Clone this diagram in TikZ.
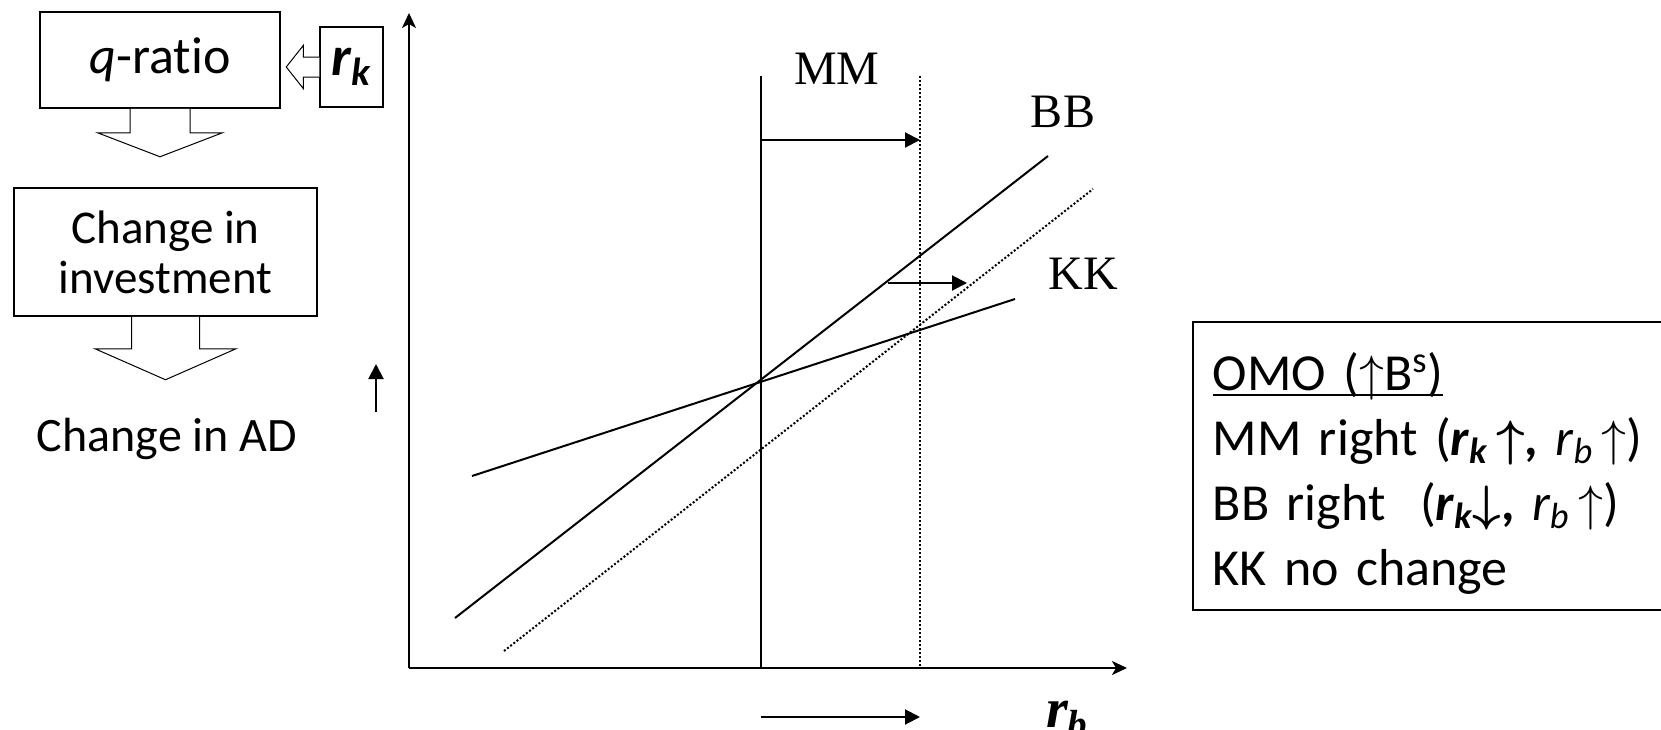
\documentclass[tikz,border=0pt]{standalone}
\usepackage{fontspec}
\setmainfont{Carlito}[Ligatures=NoCommon]
\newfontfamily\timesfont{Liberation Serif}
\usepackage{tikz}
\usetikzlibrary{positioning}
\usetikzlibrary{arrows.meta}
\usetikzlibrary{calc}
\newsavebox\omobox
\newcommand{\omohead}[1]{\sbox\omobox{#1}\usebox\omobox\llap{\rule[-3pt]{\wd\omobox}{1.2pt}}}

\begin{document}
\begin{tikzpicture}[x=0.5pt, y=-0.5pt,
                    flowbox/.style={draw, line width=0.75pt, align=center, inner sep=0pt,
                                    font=\fontsize{23.5}{25}\selectfont},
                    blockarrow/.style={draw, line width=0.5pt, fill=white},
                    curve/.style={line width=1pt},
                    shifted/.style={line width=1pt, dash pattern=on 1pt off 1pt},
                    axis/.style={line width=1.1pt, -{Stealth[length=7.5pt, width=7pt, inset=2pt]}},
                    shiftarrow/.style={line width=1pt, -{Triangle[length=7.5pt, width=7.5pt]}},
                    curvelabel/.style={font=\timesfont\fontsize{24}{26}\selectfont}]

  \useasboundingbox (0,0) rectangle (1661,729);

  % transmission chain
  \node[flowbox, minimum width=120pt, minimum height=48pt, font=\fontsize{26}{28}\selectfont]
    (qratio) at (160,60) {\textit{q}-ratio};
  \node[flowbox, minimum width=31.5pt, minimum height=40pt, font=\fontsize{28}{30}\selectfont]
    (rk) at (351.5,67) {\textbf{\textit{r\textsubscript{k}}}};
  \node[flowbox, minimum width=151.5pt, minimum height=64pt] (invest) at (165.5,252) {Change in\\investment};
  \node[font=\fontsize{24}{26}\selectfont] (ad) at (167,439) {Change in AD};

  \draw[blockarrow] ($(rk.west)+(0,-10)$) -- ++(-16,0) -- ++(0,-11.5)
    -- ($(rk.west)+(-33,0)$) -- ($(rk.west)+(-16,21.5)$) -- ++(0,-11.5) -- ($(rk.west)+(0,10)$);
  \draw[blockarrow] ($(qratio.south)+(-30,0)$) -- ++(0,24) -- ++(-32.5,0)
    -- ($(qratio.south)+(0,48)$) -- ($(qratio.south)+(62.5,24)$) -- ++(-32.5,0) -- ($(qratio.south)+(30,0)$);
  \draw[blockarrow] ($(invest.south)+(-34,0)$) -- ++(0,32) -- ++(-36.5,0)
    -- ($(invest.south)+(0,63)$) -- ($(invest.south)+(70.5,32)$) -- ++(-36.5,0) -- ($(invest.south)+(34,0)$);

  % diagram
  \coordinate (o)    at (409,668);
  \coordinate (ytip) at (409,13);
  \coordinate (xtip) at (1127,668);
  \draw[axis] (o) -- (ytip);
  \draw[axis] (o) -- (xtip);

  \coordinate (mm0) at (761,76);  \coordinate (mm1) at (761,668);
  \coordinate (mm2) at (920,76);  \coordinate (mm3) at (920,668);
  \draw[curve]   (mm0) -- (mm1);
  \draw[shifted] (mm2) -- (mm3);

  \coordinate (bb0) at (455,618);  \coordinate (bb1) at (1048,156);
  \coordinate (bb2) at (504,651);  \coordinate (bb3) at (1093,189);
  \draw[curve]   (bb0) -- (bb1);
  \draw[shifted] (bb2) -- (bb3);

  \coordinate (kk0) at (472,476);  \coordinate (kk1) at (1015,299);
  \draw[curve] (kk0) -- (kk1);

  \node[curvelabel] (mmlabel) at (837,69)  {MM};
  \node[curvelabel] (bblabel) at (1063,112) {BB};
  \node[curvelabel] (kklabel) at (1083,274) {KK};
  \node[font=\timesfont\fontsize{28}{30}\selectfont\bfseries\itshape, anchor=base west]
    (rb) at (1039,727) {r\textsubscript{b}};

  % shifts
  \coordinate (s0) at (761,140);  \coordinate (s1) at (920,140);
  \coordinate (s2) at (888,283);  \coordinate (s3) at (967,283);
  \coordinate (s4) at (761,717);  \coordinate (s5) at (920,717);
  \coordinate (s6) at (376,412);  \coordinate (s7) at (376,364);
  \draw[shiftarrow] (s0) -- (s1);
  \draw[shiftarrow] (s2) -- (s3);
  \draw[shiftarrow] (s4) -- (s5);
  \draw[shiftarrow] (s6) -- (s7);

  % summary
  \node[draw, line width=0.75pt, anchor=north west, minimum height=144pt, text width=280pt,
        inner xsep=10pt, align=left, font=\fontsize{26}{32.5}\selectfont] (omo) at (1192,321)
    {\rule{0pt}{26.5pt}\omohead{OMO ($\uparrow$B\textsuperscript{s})}\\
     MM right (\textbf{\textit{r\textsubscript{k}}}\,{\boldmath$\uparrow$}\textbf{,} \textit{r\textsubscript{b}}\,$\uparrow$)\\
     BB right~~(\textbf{\textit{r\textsubscript{k}}}{\boldmath$\downarrow$}\textbf{,} \textit{r\textsubscript{b}}\,$\uparrow$)\\
     KK no change};

\end{tikzpicture}
\end{document}
